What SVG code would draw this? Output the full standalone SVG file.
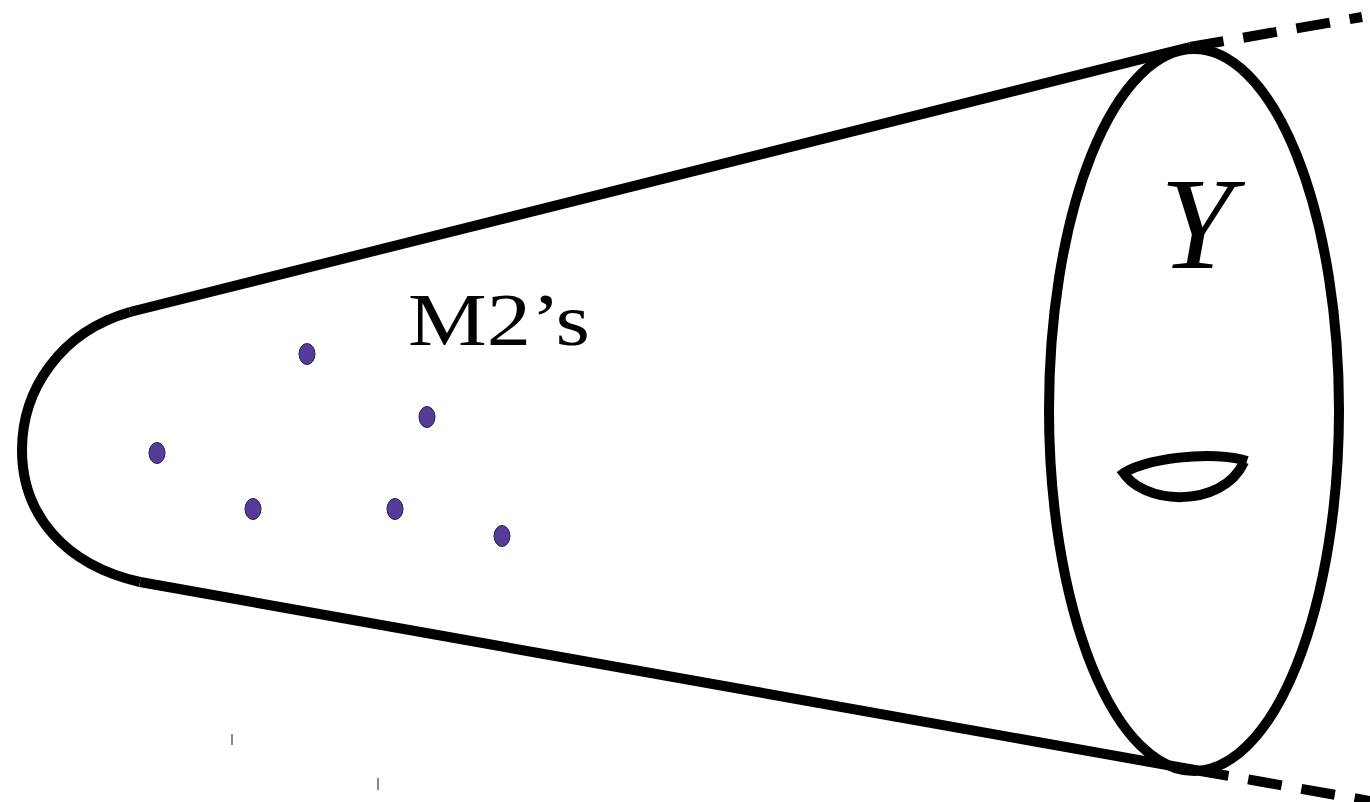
<svg xmlns="http://www.w3.org/2000/svg" width="1370" height="802" viewBox="0 0 1370 802">
<style>
.ln{fill:none;stroke:#000;stroke-width:10}
.dash{fill:none;stroke:#000;stroke-width:10;stroke-dasharray:34 20}
.dot{fill:#553c9a;stroke:#2a1f4d;stroke-width:1}
.tick{stroke:#888;stroke-width:2}
</style>
<rect width="1370" height="802" fill="#fff"/>
<g id="connectors">
<line class="ln" x1="130" y1="312" x2="1190" y2="47"/>
<line class="ln" x1="140" y1="582" x2="1195" y2="770"/>
<path class="ln" d="M130,312 C60,332 22,390 22,450 C22,515 65,565 140,582"/>
<line class="dash" x1="1190" y1="47" x2="1362" y2="17"/>
<line class="dash" x1="1195" y1="770" x2="1370" y2="801"/>
</g>
<g id="cone-end">
<ellipse class="ln" cx="1194" cy="410" rx="145" ry="361"/>
<path class="ln" d="M1120,476 C1140,458 1215,450 1247,461"/>
<path class="ln" d="M1122,470 C1140,505 1222,510 1244,462"/>
</g>
<g id="dots">
<ellipse class="dot" cx="307" cy="354" rx="8" ry="10.5"/>
<ellipse class="dot" cx="427" cy="417" rx="8" ry="10.5"/>
<ellipse class="dot" cx="157" cy="453" rx="8" ry="10.5"/>
<ellipse class="dot" cx="253" cy="509" rx="8" ry="10.5"/>
<ellipse class="dot" cx="395" cy="509" rx="8" ry="10.5"/>
<ellipse class="dot" cx="502" cy="536" rx="8" ry="10.5"/>
</g>
<g id="labels">
<text x="408" y="345" font-family="Liberation Serif, serif" font-size="74" textLength="182" lengthAdjust="spacingAndGlyphs">M2’s</text>
<text x="1160" y="268" font-family="Liberation Serif, serif" font-style="italic" font-size="132">Y</text>
</g>
<g id="ticks">
<line class="tick" x1="232" y1="734" x2="232" y2="745"/>
<line class="tick" x1="378" y1="778" x2="378" y2="790"/>
</g>
</svg>
